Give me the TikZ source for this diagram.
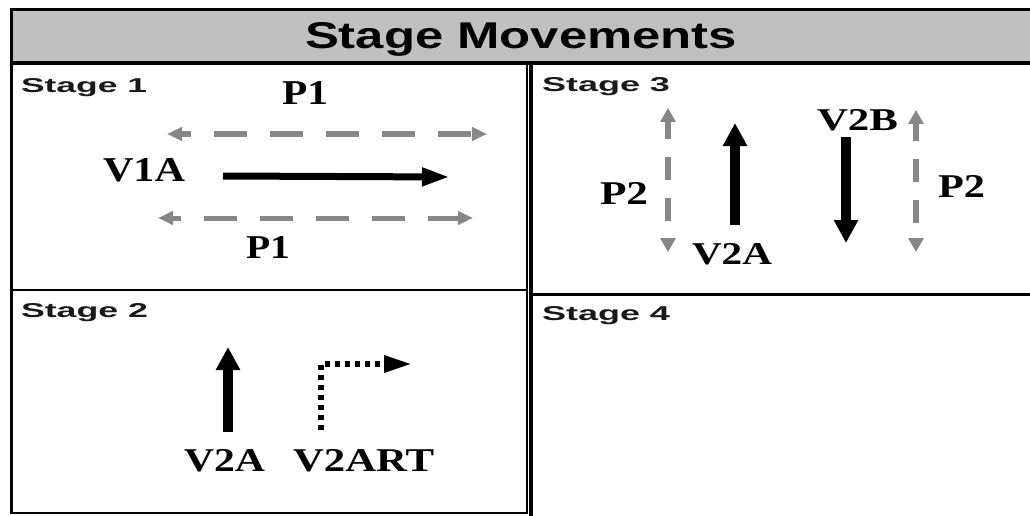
\documentclass[tikz,border=0pt]{standalone}
\usepackage{fontspec}
\usepackage{graphicx}
\usetikzlibrary{arrows.meta}
\newfontfamily\sansfnt{Liberation Sans}
\newfontfamily\seriffnt{Liberation Serif}
\definecolor{hdrgray}{RGB}{192,192,192}
\definecolor{pedgray}{RGB}{135,135,135}
\definecolor{txtdark}{RGB}{25,25,25}
\newcommand{\fitbox}[3]{\resizebox{#1pt}{#2pt}{#3}}
\tikzset{
  lbl/.style={inner sep=0pt, outer sep=0pt, anchor=base west},
  sanslbl/.style={lbl, font=\sansfnt\bfseries, text=txtdark},
  seriflbl/.style={lbl, font=\seriffnt\bfseries, text=black},
  frame/.style={line width=3.5pt, black},
  thinframe/.style={line width=2pt, black},
  vehh/.style={line width=7pt, black, -{Triangle[length=28pt,width=17pt]}},
  vehv/.style={line width=10.5pt, black, -{Triangle[length=23pt,width=23pt]}},
  pedh/.style={line width=5pt, pedgray, dash pattern=on 33pt off 23pt,
     {Triangle[length=15pt,width=13pt]}-{Triangle[length=15pt,width=13pt]}},
  pedv/.style={line width=6pt, pedgray, dash pattern=on 23pt off 18pt, dash phase=5pt,
     {Triangle[length=14pt,width=15pt]}-{Triangle[length=14pt,width=15pt]}},
  turnarr/.style={line width=6pt, black, dash pattern=on 5pt off 5pt,
     -{Triangle[length=28pt,width=16pt]}}
}
\begin{document}
\begin{tikzpicture}[x=1pt,y=-1pt]
\useasboundingbox (0,0) rectangle (1030,516);
\fill[white] (0,0) rectangle (1030,516);
% header
\fill[hdrgray] (11.5,9.5) rectangle (1031,63);
\draw[frame] (1032,9.5) -- (11.5,9.5) -- (11.5,514);
\draw[frame] (11.5,63) -- (1032,63);
\draw[thinframe] (11.5,513) -- (527,513) -- (527,63);
\draw[line width=2.5pt] (11.5,290) -- (527,290);
\draw[frame] (531,63) -- (531,518);
\draw[line width=3pt] (531,294) -- (1032,294);
\node[sanslbl, text=black] (hdr) at (305,49) {\fitbox{432}{26}{Stage Movements}};
% stage labels
\node[sanslbl] (s1) at (21,93) {\fitbox{126}{14}{Stage 1}};
\node[sanslbl] (s2) at (21,317) {\fitbox{127}{14}{Stage 2}};
\node[sanslbl] (s3) at (542,92) {\fitbox{128}{14}{Stage 3}};
\node[sanslbl] (s4) at (542,320) {\fitbox{128}{14}{Stage 4}};
% stage 1
\node[seriflbl] (p1t) at (282,105) {\fitbox{46}{23}{P1}};
\node[seriflbl] (v1a) at (103,181) {\fitbox{82}{23}{V1A}};
\node[seriflbl] (p1b) at (246,258) {\fitbox{44}{22}{P1}};
\coordinate (p1ta) at (167,134);
\coordinate (p1tb) at (487,134);
\coordinate (p1ba) at (158,218);
\coordinate (p1bb) at (473,218);
\coordinate (v1as) at (223,176);
\coordinate (v1ae) at (450,177);
\draw[pedh, dash phase=23pt] (p1ta) -- (p1tb);
\draw[pedh, dash phase=24pt] (p1ba) -- (p1bb);
\draw[vehh] (v1as) -- (v1ae);
% stage 3
\node[seriflbl] (p2l) at (600,204) {\fitbox{48}{22}{P2}};
\node[seriflbl] (v2a3) at (692,264) {\fitbox{80}{21}{V2A}};
\node[seriflbl] (v2b) at (817,131) {\fitbox{81}{21}{V2B}};
\node[seriflbl] (p2r) at (938,197) {\fitbox{47}{22}{P2}};
\coordinate (p2la) at (668,108);
\coordinate (p2lb) at (668,252);
\coordinate (p2ra) at (916,110);
\coordinate (p2rb) at (916,252);
\coordinate (v2a3s) at (735,225);
\coordinate (v2a3e) at (735,123);
\coordinate (v2bs) at (846,137);
\coordinate (v2be) at (846,243);
\draw[pedv] (p2la) -- (p2lb);
\draw[pedv] (p2ra) -- (p2rb);
\draw[vehv] (v2a3s) -- (v2a3e);
\draw[vehv] (v2bs) -- (v2be);
% stage 2
\node[seriflbl] (v2a2) at (184,471) {\fitbox{81}{22}{V2A}};
\node[seriflbl] (v2art) at (293,471) {\fitbox{141}{22}{V2ART}};
\coordinate (v2a2s) at (228,432);
\coordinate (v2a2e) at (228,347);
\coordinate (rts) at (321,430);
\coordinate (rtc) at (321,364);
\coordinate (rte) at (412,364);
\draw[vehv] (v2a2s) -- (v2a2e);
\draw[turnarr] (rts) -- (rtc) -- (rte);
\end{tikzpicture}
\end{document}
